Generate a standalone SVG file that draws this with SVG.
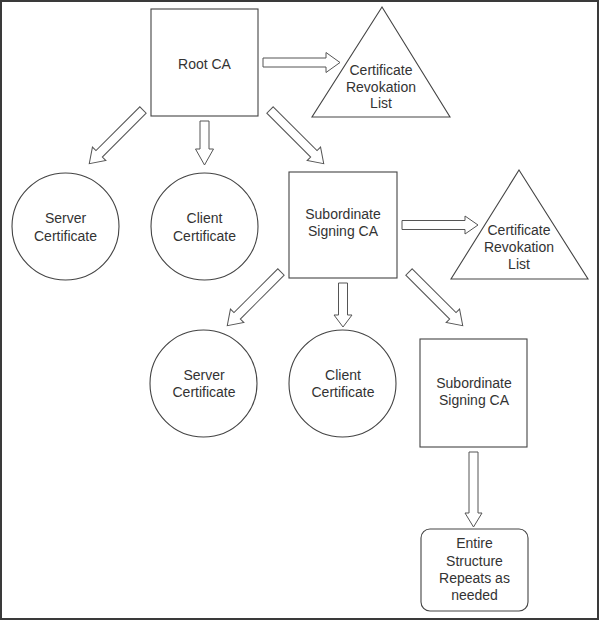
<svg xmlns="http://www.w3.org/2000/svg" width="600" height="621" viewBox="0 0 600 621">
<style>
.n{fill:#fff;stroke:#444;stroke-width:1.1}
.a{fill:#fff;stroke:#555;stroke-width:1}
text{font-family:"Liberation Sans",Arial,sans-serif;font-size:14px;fill:#333;text-anchor:middle}
</style>
<rect x="0" y="0" width="600" height="621" fill="#fff"/>
<rect x="1" y="1" width="597" height="618" fill="none" stroke="#3a3a3a" stroke-width="2"/>
<g id="connectors">
<path class="a" transform="translate(263,62.5)" d="M0,-4.5H63V-10L77,0L63,10V4.5H0Z"/>
<path class="a" transform="translate(402,225)" d="M0,-4.5H63V-9L76,0L63,9V4.5H0Z"/>
<path class="a" transform="translate(204.5,121) rotate(90)" d="M0,-4.5H28V-9L44,0L28,9V4.5H0Z"/>
<path class="a" transform="translate(343,283) rotate(90)" d="M0,-4.5H32V-9L44,0L32,9V4.5H0Z"/>
<path class="a" transform="translate(473.5,452) rotate(90)" d="M0,-4.5H61V-8.5L75,0L61,8.5V4.5H0Z"/>
<path class="a" transform="translate(143,110) rotate(135)" d="M0,-4.5H62V-9.5L76,0L62,9.5V4.5H0Z"/>
<path class="a" transform="translate(270,110) rotate(45)" d="M0,-4.5H62V-9.5L76,0L62,9.5V4.5H0Z"/>
<path class="a" transform="translate(281,272) rotate(135)" d="M0,-4.5H62V-9.5L76,0L62,9.5V4.5H0Z"/>
<path class="a" transform="translate(409,272) rotate(45)" d="M0,-4.5H62V-9.5L76,0L62,9.5V4.5H0Z"/>
</g>
<g id="root-ca">
<rect class="n" x="151" y="9" width="107" height="107"/>
<text x="204.5" y="69">Root CA</text>
</g>
<g id="crl-1">
<polygon class="n" points="382,7 312,117 450,117"/>
<text x="381" y="75">Certificate</text>
<text x="381" y="92">Revokation</text>
<text x="381" y="108">List</text>
</g>
<g id="server-cert-1">
<circle class="n" cx="65.5" cy="226.5" r="53.5"/>
<text x="65.5" y="223">Server</text>
<text x="65.5" y="241">Certificate</text>
</g>
<g id="client-cert-1">
<circle class="n" cx="204.5" cy="226.5" r="53.5"/>
<text x="204.5" y="223">Client</text>
<text x="204.5" y="241">Certificate</text>
</g>
<g id="sub-ca-1">
<rect class="n" x="289" y="172" width="108" height="106"/>
<text x="343" y="219">Subordinate</text>
<text x="343" y="236">Signing CA</text>
</g>
<g id="crl-2">
<polygon class="n" points="519,170 451,279 588,279"/>
<text x="519" y="235">Certificate</text>
<text x="519" y="252">Revokation</text>
<text x="519" y="269">List</text>
</g>
<g id="server-cert-2">
<circle class="n" cx="203.5" cy="383.5" r="53.5"/>
<text x="204" y="380">Server</text>
<text x="204" y="397">Certificate</text>
</g>
<g id="client-cert-2">
<circle class="n" cx="342.5" cy="383.5" r="53.5"/>
<text x="343" y="380">Client</text>
<text x="343" y="397">Certificate</text>
</g>
<g id="sub-ca-2">
<rect class="n" x="420" y="339" width="107" height="108"/>
<text x="474" y="388">Subordinate</text>
<text x="474" y="405">Signing CA</text>
</g>
<g id="repeat">
<rect class="n" x="421" y="529" width="107" height="82" rx="9"/>
<text x="474.5" y="548">Entire</text>
<text x="474.5" y="566">Structure</text>
<text x="474.5" y="583">Repeats as</text>
<text x="474.5" y="600">needed</text>
</g>
</svg>
